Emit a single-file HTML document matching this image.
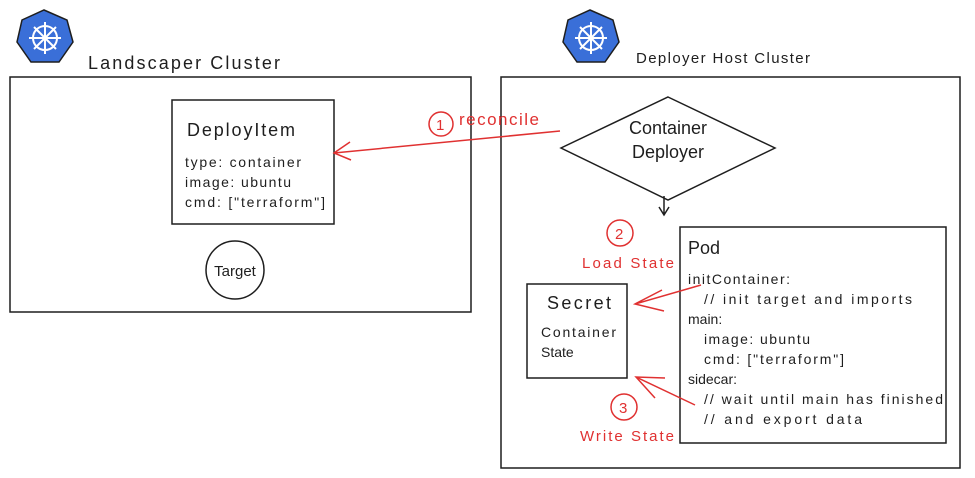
<!DOCTYPE html>
<html><head><style>body{margin:0;background:#fff}svg{display:block}text{font-family:"Liberation Sans",sans-serif}</style></head><body>
<svg width="975" height="478" viewBox="0 0 975 478" xmlns="http://www.w3.org/2000/svg">
<g fill="none" stroke="#1e1e1e" stroke-width="1.5">
<rect x="10" y="77" width="461" height="235"/>
<rect x="501" y="77" width="459" height="391"/>
<rect x="172" y="100" width="162" height="124"/>
<circle cx="235" cy="270" r="29"/>
<polygon points="668,97 775,148 668,200 561,148"/>
<rect x="680" y="227" width="266" height="216"/>
<rect x="527" y="284" width="100" height="94"/>
<path d="M664 196 L664 214 M659 207 L664 215 L669 207"/>
</g>
<g fill="#3a6fd8" stroke="#1e1e1e" stroke-width="1.5">
<polygon points="44,10 67,20 73,42 59,62 31,62 17,42 22,20"/>
<polygon points="590,10 613,20 619,42 605,62 577,62 563,42 568,20"/>
</g>
<g fill="none" stroke="#fff" stroke-width="2">
<circle cx="45" cy="38" r="12"/><path d="M45 22V54M29 38H61M34 27L56 49M56 27L34 49"/>
<circle cx="591" cy="38" r="12"/><path d="M591 22V54M575 38H607M580 27L602 49M602 27L580 49"/>
</g>
<g fill="none" stroke="#e03131" stroke-width="1.5">
<path d="M560 131 L334 153 M350 142 L334 153 L351 160"/>
<circle cx="441" cy="124" r="12"/>
<circle cx="620" cy="233" r="13"/>
<circle cx="624" cy="407" r="13"/>
<path d="M701 285 L635 304 M662 290 L635 304 L664 311"/>
<path d="M695 405 L636 377 M665 378 L636 377 L655 398"/>
</g>
<g fill="#e03131" font-size="15">
<text x="436" y="130">1</text>
<text x="459" y="125" font-size="17" textLength="80">reconcile</text>
<text x="615" y="239">2</text>
<text x="619" y="413">3</text>
<text x="582" y="268" textLength="92">Load State</text>
<text x="580" y="441" textLength="94">Write State</text>
</g>
<g fill="#1e1e1e">
<text x="88" y="69" font-size="18" textLength="192">Landscaper Cluster</text>
<text x="636" y="63" font-size="15" textLength="174">Deployer Host Cluster</text>
<text x="187" y="136" font-size="18" textLength="108">DeployItem</text>
<text x="185" y="167" font-size="14" textLength="116">type: container</text>
<text x="185" y="187" font-size="14" textLength="106">image: ubuntu</text>
<text x="185" y="207" font-size="14" textLength="140">cmd: ["terraform"]</text>
<text x="235" y="276" font-size="15" text-anchor="middle">Target</text>
<text x="668" y="134" font-size="18" text-anchor="middle">Container</text>
<text x="668" y="158" font-size="18" text-anchor="middle">Deployer</text>
<text x="547" y="309" font-size="18" textLength="64">Secret</text>
<text x="541" y="337" font-size="14" textLength="75">Container</text>
<text x="541" y="357" font-size="14">State</text>
<text x="688" y="254" font-size="18">Pod</text>
<g font-size="14">
<text x="688" y="284" textLength="102">initContainer:</text>
<text x="704" y="304" textLength="208">// init target and imports</text>
<text x="688" y="324">main:</text>
<text x="704" y="344" textLength="106">image: ubuntu</text>
<text x="704" y="364" textLength="140">cmd: ["terraform"]</text>
<text x="688" y="384">sidecar:</text>
<text x="704" y="404" textLength="239">// wait until main has finished</text>
<text x="704" y="424" textLength="158">// and export data</text>
</g>
</g>
</svg>
</body></html>
